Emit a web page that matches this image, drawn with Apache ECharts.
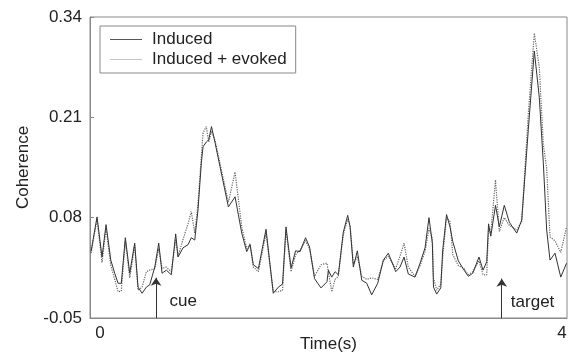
<!DOCTYPE html>
<html>
<head>
<meta charset="utf-8">
<script src="https://cdn.jsdelivr.net/npm/echarts@6/dist/echarts.min.js"></script>
<style>
  html, body { margin: 0; padding: 0; background: #fff; }
  #chart { width: 569px; height: 357px; }
</style>
</head>
<body>
<div id="chart"></div>
<script>
// time axis (s)
var times = [
  -0.078, -0.026, 0.017, 0.052, 0.093, 0.127, 0.156, 0.184, 0.219, 0.257,
  0.300, 0.329, 0.364, 0.401, 0.430, 0.474, 0.508, 0.537, 0.574, 0.617,
  0.655, 0.675, 0.719, 0.762, 0.790, 0.820, 0.848, 0.877, 0.892, 0.920,
  0.941, 0.965, 0.996, 1.039, 1.111, 1.169, 1.227, 1.270, 1.299, 1.327,
  1.371, 1.437, 1.468, 1.500, 1.544, 1.580, 1.610, 1.654, 1.693, 1.732,
  1.779, 1.814, 1.857, 1.913, 1.965, 1.977, 2.006, 2.035, 2.063, 2.106,
  2.144, 2.165, 2.193, 2.228, 2.266, 2.309, 2.352, 2.404, 2.453, 2.496,
  2.560, 2.597, 2.632, 2.669, 2.727, 2.771, 2.814, 2.848, 2.877, 2.887,
  2.915, 2.950, 2.967, 3.000, 3.030, 3.054, 3.102, 3.152, 3.189, 3.227,
  3.281, 3.316, 3.348, 3.364, 3.383, 3.424, 3.457, 3.500, 3.544, 3.608,
  3.651, 3.708, 3.760, 3.803, 3.838, 3.867, 3.896, 3.939, 3.989, 4.039
];

var induced = [
  0.036, 0.081, 0.029, 0.071, 0.025, 0.008, -0.005, -0.005, 0.054, 0.008,
  0.047, -0.010, -0.018, -0.010, -0.007, 0.016, 0.047, 0.008, 0.012, 0.006,
  0.059, 0.029, 0.041, 0.045, 0.054, 0.051, 0.090, 0.151, 0.172, 0.178,
  0.181, 0.198, 0.177, 0.146, 0.094, 0.107, 0.060, 0.036, 0.045, 0.019,
  0.014, 0.065, 0.024, -0.018, -0.010, -0.006, 0.068, 0.015, 0.037, 0.036,
  0.054, 0.042, 0.001, -0.011, -0.003, 0.012, 0.003, 0.010, 0.006, 0.061,
  0.083, 0.068, 0.016, 0.037, -0.001, -0.005, -0.020, -0.005, 0.025, 0.034,
  0.010, 0.016, 0.029, 0.007, 0.003, 0.021, 0.041, 0.080, 0.047, -0.010,
  -0.019, -0.011, 0.038, 0.084, 0.068, 0.049, 0.024, 0.012, 0.004, 0.008,
  0.029, 0.012, 0.023, 0.072, 0.056, 0.096, 0.068, 0.096, 0.074, 0.060,
  0.077, 0.194, 0.296, 0.236, 0.151, 0.064, 0.025, 0.034, 0.003, 0.021
];

var inducedEvoked = [
  0.034, 0.078, 0.022, 0.066, 0.018, 0.000, -0.016, -0.015, 0.050, 0.002,
  0.044, -0.014, -0.010, 0.010, 0.012, 0.014, 0.040, 0.014, 0.016, 0.010,
  0.052, 0.030, 0.052, 0.072, 0.088, 0.060, 0.098, 0.160, 0.190, 0.198,
  0.178, 0.192, 0.180, 0.150, 0.100, 0.139, 0.068, 0.040, 0.046, 0.016,
  0.010, 0.060, 0.022, -0.016, -0.016, -0.014, 0.064, 0.010, 0.032, 0.038,
  0.050, 0.040, 0.004, 0.019, 0.021, 0.010, -0.016, 0.000, 0.004, 0.058,
  0.078, 0.070, 0.020, 0.030, 0.004, 0.000, 0.002, 0.000, 0.024, 0.030,
  0.014, 0.030, 0.047, 0.016, 0.004, 0.018, 0.036, 0.066, 0.053, 0.002,
  -0.014, -0.006, 0.030, 0.080, 0.075, 0.032, 0.018, 0.014, 0.006, 0.010,
  0.024, 0.006, 0.006, 0.066, 0.060, 0.129, 0.062, 0.080, 0.070, 0.064,
  0.075, 0.215, 0.319, 0.275, 0.175, 0.144, 0.055, 0.050, 0.035, 0.068
];

var yTicks = [-0.05, 0.08, 0.21, 0.34];
var xTicks = [0, 4];
// events: time, arrow tip, label position
var events = [
  { name: 'cue', t: 0.485, tip: 0.002, lx: 0.72, ly: -0.029 },
  { name: 'target', t: 3.478, tip: 0.001, lx: 3.745, ly: -0.030 }
];

var font = 'Liberation Sans, Arial, sans-serif';
var chart = echarts.init(document.getElementById('chart'));

var option = {
  animation: false,
  backgroundColor: '#fff',
  grid: {
    left: 90, right: 2, top: 17, bottom: 39,
    containLabel: false,
    outerBoundsMode: 'none',
    show: true, borderColor: '#888', borderWidth: 1
  },
  legend: {
    orient: 'vertical',
    left: 100, top: 26,
    padding: [5, 9, 5, 10],
    itemGap: 3,
    itemWidth: 32, itemHeight: 1,
    borderColor: '#888', borderWidth: 1,
    textStyle: { fontFamily: font, fontSize: 17, color: '#222', padding: [0, 0, 0, 5] },
    data: [
      { name: 'Induced', icon: 'rect', itemStyle: { color: '#555' } },
      { name: 'Induced + evoked', icon: 'rect', itemStyle: { color: '#c4c4c4' } }
    ]
  },
  xAxis: {
    type: 'value',
    min: -0.087, max: 4.043,
    name: 'Time(s)',
    nameLocation: 'middle',
    nameGap: 18,
    nameMoveOverlap: false,
    nameTextStyle: { fontFamily: font, fontSize: 17, color: '#222' },
    axisLine: { onZero: false, lineStyle: { color: '#888' } },
    axisTick: { show: false },
    splitLine: { show: false },
    axisLabel: {
      customValues: xTicks,
      margin: 7,
      fontFamily: font, fontSize: 17, color: '#222'
    }
  },
  yAxis: {
    type: 'value',
    min: -0.05, max: 0.34,
    name: 'Coherence',
    nameLocation: 'middle',
    nameGap: 58,
    nameMoveOverlap: false,
    nameTextStyle: { fontFamily: font, fontSize: 17, color: '#222' },
    axisLine: { show: true, onZero: false, lineStyle: { color: '#888' } },
    axisTick: { show: true, inside: true, length: 4, customValues: yTicks, lineStyle: { color: '#888' } },
    splitLine: { show: false },
    axisLabel: {
      customValues: yTicks,
      margin: 8,
      fontFamily: font, fontSize: 17, color: '#222',
      formatter: function (v) { return v.toFixed(2); }
    }
  },
  series: [
    {
      name: 'Induced',
      type: 'line',
      showSymbol: false,
      data: times.map(function (t, i) { return [t, induced[i]]; }),
      lineStyle: { color: '#333', width: 1 },
      itemStyle: { color: '#333' },
      z: 3,
      markLine: {
        silent: true,
        symbol: ['none', 'arrow'],
        symbolSize: 8,
        lineStyle: { color: '#333', width: 1, type: 'solid' },
        label: { show: false },
        data: events.map(function (e) {
          return [{ coord: [e.t, -0.05] }, { coord: [e.t, e.tip] }];
        })
      },
      markPoint: {
        silent: true,
        symbol: 'circle',
        symbolSize: 0,
        label: {
          show: true, position: 'inside',
          fontFamily: font, fontSize: 17, color: '#222',
          formatter: function (p) { return p.name; }
        },
        data: events.map(function (e) {
          return { name: e.name, coord: [e.lx, e.ly] };
        })
      }
    },
    {
      name: 'Induced + evoked',
      type: 'line',
      showSymbol: false,
      data: times.map(function (t, i) { return [t, inducedEvoked[i]]; }),
      lineStyle: { color: '#666', width: 1.2, type: 'dotted' },
      itemStyle: { color: '#c4c4c4' },
      z: 2
    }
  ]
};

chart.setOption(option);
</script>
</body>
</html>
